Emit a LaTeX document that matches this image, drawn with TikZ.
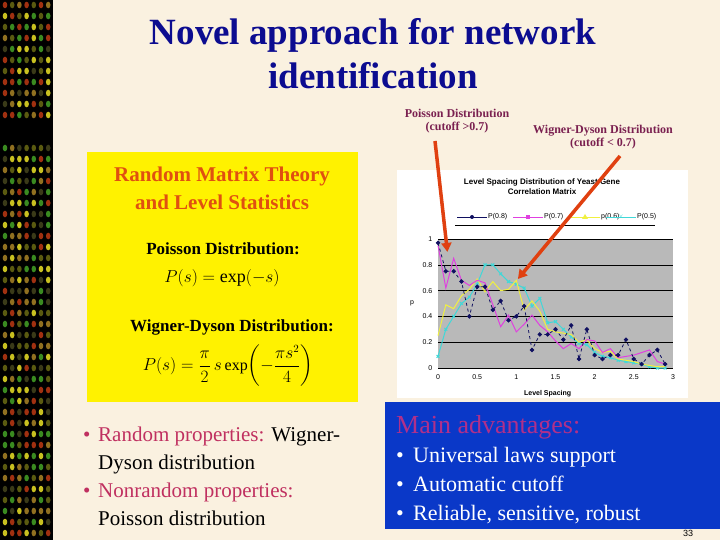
\documentclass[tikz,border=0pt]{standalone}
\usepackage{fontspec}
\setmainfont{Liberation Serif}
\setsansfont{Liberation Sans}
\usepackage{amsmath}
\definecolor{bg}{HTML}{FAF1E0}
\definecolor{ttl}{HTML}{0C0C90}
\definecolor{ann}{HTML}{7A2050}
\definecolor{arr}{HTML}{E04010}
\definecolor{rmt}{HTML}{E05010}
\definecolor{pk}{HTML}{C03060}
\definecolor{bbox}{HTML}{0A38C8}
\definecolor{mag}{HTML}{B0308A}
\definecolor{s1}{HTML}{101060}
\definecolor{s2}{HTML}{E040E0}
\definecolor{s3}{HTML}{F0F040}
\definecolor{s4}{HTML}{40D8D8}
\definecolor{d0}{HTML}{5A5A10}
\definecolor{d1}{HTML}{C8C020}
\definecolor{d2}{HTML}{3A8A20}
\definecolor{d3}{HTML}{A03010}
\definecolor{d4}{HTML}{3A3A18}
\definecolor{d5}{HTML}{907020}
\tikzset{ann/.style={text=ann,font=\bfseries\fontsize{12}{13}\selectfont,align=center,inner sep=0pt},
 arrw/.style={draw=arr,line width=3.5pt,-{Triangle[length=9pt,width=10pt]}},
 tick/.style={font=\sffamily\fontsize{7}{8}\selectfont,inner sep=0pt}}
\usetikzlibrary{arrows.meta}
\begin{document}
\begin{tikzpicture}[x=1pt,y=-1pt]
\useasboundingbox (0,0) rectangle (720,540);
\fill[bg] (0,0) rectangle (720,540);
\fill[black] (0,0) rectangle (53,540);
\pgfmathsetseed{7}
\foreach \yy in {5,16,...,535}{
 \ifnum\yy>118 \ifnum\yy<148 \else
 \foreach \i in {0,...,6}{
  \pgfmathrandominteger{\c}{0}{5}
  \fill[d\c] ({5+7.2*\i},\yy) ellipse (2.3 and 3.3);
 }\fi\else
 \foreach \i in {0,...,6}{
  \pgfmathrandominteger{\c}{0}{5}
  \fill[d\c] ({5+7.2*\i},\yy) ellipse (2.3 and 3.3);
 }\fi
}
% title
\node[text=ttl,font=\bfseries\fontsize{37}{44}\selectfont,align=center] (title) at (373,54) {Novel approach for network\\identification};
% annotations
\node[ann] (pa) at (457,121) {Poisson Distribution\\(cutoff >0.7)};
\node[ann] (wa) at (603,137) {Wigner-Dyson Distribution\\(cutoff < 0.7)};
% yellow box
\fill[yellow] (87,152) rectangle (358,402);
\node[text=rmt,font=\bfseries\fontsize{21}{28}\selectfont,align=center] (rmt) at (222,188) {Random Matrix Theory\\and Level Statistics};
\node[font=\bfseries\fontsize{17}{19}\selectfont] (pd) at (223,249) {Poisson Distribution:};
\node[font=\fontsize{18}{20}\selectfont] (pf) at (222,278) {$P(s)=\exp(-s)$};
\node[font=\bfseries\fontsize{17}{19}\selectfont] (wd) at (232,327) {Wigner-Dyson Distribution:};
\node[font=\fontsize{16}{18}\selectfont] (wf) at (228,366) {$P(s)=\dfrac{\pi}{2}\,s\exp\!\left(-\dfrac{\pi s^2}{4}\right)$};
% chart
\fill[white] (397,170) rectangle (688,398);
\node[font=\sffamily\bfseries\fontsize{8}{10}\selectfont,align=center] (ct) at (542,187) {Level Spacing Distribution of Yeast Gene\\Correlation Matrix};
\draw[black,line width=0.6pt] (455,225) -- (655,225);
\begin{scope}[font=\sffamily\fontsize{7}{8}\selectfont]
\draw[s1,thick] (457,217)--(487,217); \fill[s1] (472,217) circle (2);
\node[anchor=west,inner sep=1pt] (l1) at (487,217) {P(0.8)};
\draw[s2,thick] (513,217)--(543,217); \fill[s2] (526,215) rectangle (530,219);
\node[anchor=west,inner sep=1pt] (l2) at (543,217) {P(0.7)};
\draw[s3,thick] (570,217)--(600,217); \fill[s3] (582,219)--(585,214)--(588,219)--cycle;
\node[anchor=west,inner sep=1pt] (l3) at (600,217) {p(0.6)};
\draw[s4,thick] (606,217)--(636,217); \node[s4,font=\fontsize{7}{7}\selectfont,inner sep=0pt] at (621,217) {$\times$};
\node[anchor=west,inner sep=1pt] (l4) at (636,217) {P(0.5)};
\end{scope}
\fill[gray!55] (438,239) rectangle (673,368);
\begin{scope}[shift={(438pt,-368pt)},x=78.33pt,y=129pt]
\foreach \v in {0.2,0.4,0.6,0.8,1}{\draw[black,line width=0.5pt] (0,\v)--(3,\v);
 \node[tick,anchor=east] at (-0.07,\v) {\v};}
\node[tick,anchor=east] at (-0.07,0) {0};
\draw[black,line width=0.5pt] (0,0)--(3,0);
\foreach \v in {0,0.5,1,1.5,2,2.5,3}{\node[tick] at (\v,-0.07) {\v};}
\node[tick,font=\sffamily\bfseries\fontsize{7}{8}\selectfont] at (1.4,-0.2) {Level Spacing};
\node[tick] at (-0.33,0.5) {p};
\draw[s4,line width=1pt,mark=x,mark size=2pt] plot coordinates {(0,0.09)(0.1,0.30)(0.2,0.40)(0.3,0.50)(0.4,0.55)(0.5,0.65)(0.6,0.80)(0.7,0.80)(0.8,0.73)(0.9,0.67)(1,0.65)(1.1,0.62)(1.2,0.48)(1.3,0.54)(1.4,0.35)(1.5,0.36)(1.6,0.30)(1.7,0.24)(1.8,0.19)(1.9,0.18)(2,0.12)(2.1,0.09)(2.2,0.08)(2.3,0.06)(2.4,0.05)(2.5,0.04)(2.6,0.03)(2.7,0.01)(2.8,0)(2.9,0)};
\draw[s3,line width=1pt,mark=triangle*,mark size=2pt] plot coordinates {(0,0.25)(0.1,0.49)(0.2,0.46)(0.3,0.56)(0.4,0.61)(0.5,0.69)(0.6,0.59)(0.7,0.67)(0.8,0.60)(0.9,0.61)(1,0.68)(1.1,0.45)(1.2,0.52)(1.3,0.44)(1.4,0.30)(1.5,0.28)(1.6,0.27)(1.7,0.26)(1.8,0.20)(1.9,0.22)(2,0.15)(2.1,0.12)(2.2,0.13)(2.3,0.07)(2.4,0.06)(2.5,0.05)(2.6,0.03)(2.7,0.02)(2.8,0.01)(2.9,0.01)};
\draw[s2,line width=1pt,mark=square*,mark size=1.8pt] plot coordinates {(0,0.95)(0.1,0.62)(0.2,0.85)(0.3,0.68)(0.4,0.64)(0.5,0.68)(0.6,0.66)(0.7,0.49)(0.8,0.32)(0.9,0.41)(1,0.28)(1.1,0.34)(1.2,0.41)(1.3,0.33)(1.4,0.28)(1.5,0.21)(1.6,0.15)(1.7,0.19)(1.8,0.15)(1.9,0.22)(2,0.21)(2.1,0.12)(2.2,0.15)(2.3,0.08)(2.4,0.09)(2.5,0.10)(2.6,0.12)(2.7,0.14)(2.8,0.05)(2.9,0.03)};
\draw[s1,line width=0.8pt,dashed,mark=*,mark size=1.8pt,mark options={solid}] plot coordinates {(0,0.97)(0.1,0.75)(0.2,0.75)(0.3,0.67)(0.4,0.40)(0.5,0.63)(0.6,0.63)(0.7,0.45)(0.8,0.52)(0.9,0.37)(1,0.40)(1.1,0.48)(1.2,0.14)(1.3,0.26)(1.4,0.26)(1.5,0.30)(1.6,0.22)(1.7,0.33)(1.8,0.07)(1.9,0.30)(2,0.10)(2.1,0.07)(2.2,0.10)(2.3,0.10)(2.4,0.22)(2.5,0.07)(2.6,0.03)(2.7,0.10)(2.8,0.14)(2.9,0.03)};
\coordinate (pt1) at (0.12,0.9);
\coordinate (pt2) at (1.02,0.69);
\end{scope}
\coordinate (p0) at (435,141);
\coordinate (w0) at (620,156);
\draw[arrw] (p0) -- (pt1);
\draw[arrw] (w0) -- (pt2);
% bottom left
\begin{scope}[font=\fontsize{21}{28}\selectfont]
\node[anchor=base west,inner sep=0pt,text=pk] (b1) at (83,441) {\textbullet};
\node[anchor=base west,inner sep=0pt] (t1) at (98,441) {\textcolor{pk}{Random properties:} Wigner-};
\node[anchor=base west,inner sep=0pt] (t2) at (98,469) {Dyson distribution};
\node[anchor=base west,inner sep=0pt,text=pk] (b2) at (83,497) {\textbullet};
\node[anchor=base west,inner sep=0pt] (t3) at (98,497) {\textcolor{pk}{Nonrandom properties:}};
\node[anchor=base west,inner sep=0pt] (t4) at (98,525) {Poisson distribution};
\end{scope}
% blue box
\fill[bbox] (385,402) rectangle (720,529);
\node[anchor=base west,inner sep=0pt,text=mag,font=\fontsize{26}{30}\selectfont] (ma) at (396,433) {Main advantages:};
\begin{scope}[font=\fontsize{22}{26}\selectfont,text=white]
\node[anchor=base west,inner sep=0pt] at (396,462) {\textbullet};
\node[anchor=base west,inner sep=0pt] (m1) at (413,462) {Universal laws support};
\node[anchor=base west,inner sep=0pt] at (396,491) {\textbullet};
\node[anchor=base west,inner sep=0pt] (m2) at (413,491) {Automatic cutoff};
\node[anchor=base west,inner sep=0pt] at (396,520) {\textbullet};
\node[anchor=base west,inner sep=0pt] (m3) at (413,520) {Reliable, sensitive, robust};
\end{scope}
\node[font=\sffamily\fontsize{9}{10}\selectfont,inner sep=0pt] (pn) at (688,533) {33};
\end{tikzpicture}
\end{document}
